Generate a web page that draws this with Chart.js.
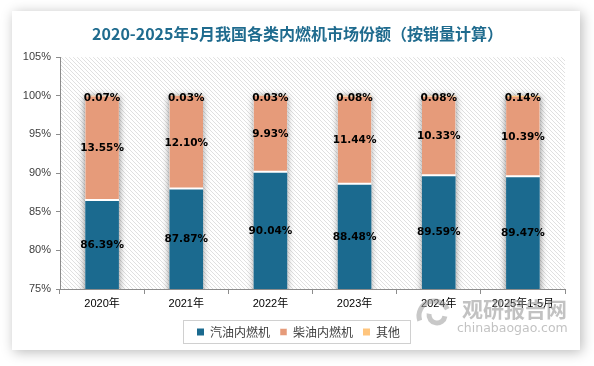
<!DOCTYPE html>
<html><head><meta charset="utf-8">
<script src="https://cdn.jsdelivr.net/npm/chart.js@4"></script>
<style>
html,body{margin:0;padding:0;background:#fff;}
#wrap{position:relative;width:594px;height:366px;}
canvas{display:block;}
</style></head>
<body>
<div id="wrap"><canvas id="c" width="594" height="366"></canvas></div>
<script>
const categories = ['2020年','2021年','2022年','2023年','2024年','2025年1-5月'];
const gasoline = [86.39, 87.87, 90.04, 88.48, 89.59, 89.47];
const diesel = [13.55, 12.10, 9.93, 11.44, 10.33, 10.39];
const other = [0.07, 0.03, 0.03, 0.08, 0.08, 0.14];
const seriesNames = ['汽油内燃机','柴油内燃机','其他'];
const yMin = 75, yMax = 105, yStep = 5;
const titleText = '2020-2025年5月我国各类内燃机市场份额（按销量计算）';

const COLORS = ['#1B6A8F','#E69B7A','#FFC57D'];
const LATIN = '"Liberation Sans", "Noto Sans CJK SC", sans-serif';

function makeHatch(ctx){
  const p = document.createElement('canvas');
  p.width = 4; p.height = 4;
  const c = p.getContext('2d');
  c.fillStyle = '#fff'; c.fillRect(0,0,4,4);
  c.fillStyle = '#e0e0e0';
  for (let i=0;i<4;i++){ c.fillRect(i,i,1,1); }
  return ctx.createPattern(p,'repeat');
}

const decor = {
  id:'decor',
  afterLayout(chart){
    const lg = chart.legend;
    if (lg){ lg.left += 16; lg.right += 16; }
    const tb = chart.titleBlock;
    if (tb){ tb.left += 15; tb.right += 15; }
  },
  beforeDraw(chart){
    const ctx = chart.ctx;
    ctx.save();
    ctx.fillStyle = '#fff';
    ctx.fillRect(0,0,chart.width,chart.height);
    ctx.shadowColor = 'rgba(0,0,0,0.28)';
    ctx.shadowBlur = 12;
    ctx.shadowOffsetX = 2; ctx.shadowOffsetY = 2;
    ctx.fillRect(12,11,568,339);
    ctx.restore();
    const a = chart.chartArea;
    ctx.save();
    ctx.fillStyle = makeHatch(ctx);
    ctx.fillRect(a.left, a.top, a.right-a.left, a.bottom-a.top);
    ctx.restore();
  },
  beforeDatasetsDraw(chart){
    const ctx = chart.ctx;
    const meta = chart.getDatasetMeta(0);
    const y = chart.scales.y;
    const a = chart.chartArea;
    ctx.save();
    ctx.beginPath(); ctx.rect(a.left-10,a.top,a.right-a.left+20,a.bottom-a.top); ctx.clip();
    ctx.shadowColor = 'rgba(0,0,0,0.5)';
    ctx.shadowBlur = 7;
    ctx.fillStyle = '#fff';
    meta.data.forEach((bar,i)=>{
      const total = gasoline[i]+diesel[i]+other[i];
      const top = y.getPixelForValue(total);
      ctx.fillRect(bar.x - bar.width/2, top, bar.width, a.bottom - top + 10);
    });
    ctx.restore();
  },
  afterDatasetsDraw(chart){
    const ctx = chart.ctx;
    const y = chart.scales.y;
    const meta = chart.getDatasetMeta(0);
    ctx.save();
    ctx.font = 'bold 10.5px "DejaVu Sans", sans-serif';
    ctx.fillStyle = '#000';
    ctx.textAlign = 'center';
    ctx.textBaseline = 'middle';
    meta.data.forEach((bar,i)=>{
      const g = gasoline[i], d = diesel[i], o = other[i];
      const gy = y.getPixelForValue((yMin + g)/2);
      ctx.fillText(g.toFixed(2)+'%', bar.x, gy);
      ctx.fillText(d.toFixed(2)+'%', bar.x, y.getPixelForValue(g + d/2));
      ctx.fillText(o.toFixed(2)+'%', bar.x, y.getPixelForValue(g + d + o/2) + 2);
    });
    ctx.restore();
  },
  afterDraw(chart){
    const ctx = chart.ctx;
    const hb = chart.legend.legendHitBoxes;
    if (hb && hb.length){
      const l = Math.min(...hb.map(b=>b.left)) - 14;
      const r = Math.max(...hb.map(b=>b.left+b.width)) + 10;
      const t = Math.min(...hb.map(b=>b.top)) - 6;
      const bt = Math.max(...hb.map(b=>b.top+b.height)) + 5;
      ctx.save();
      ctx.strokeStyle = '#d0d0d0';
      ctx.lineWidth = 1;
      ctx.strokeRect(Math.round(l)+0.5, Math.round(t)+0.5, Math.round(r-l), Math.round(bt-t));
      ctx.restore();
    }
    // watermark
    ctx.save();
    ctx.globalAlpha = 0.55;
    ctx.fillStyle = '#8f8f8f';
    ctx.textBaseline = 'middle';
    ctx.textAlign = 'left';
    ctx.font = 'bold 21px "Noto Sans CJK SC", sans-serif';
    ctx.fillText('观研报告网', 462, 309);
    ctx.font = '12.5px "DejaVu Sans", sans-serif';
    ctx.fillText('chinabaogao.com', 457, 329);
    ctx.lineWidth = 5;
    ctx.strokeStyle = '#9a9a9a';
    ctx.beginPath(); ctx.arc(434, 316, 15, Math.PI*0.9, Math.PI*1.85); ctx.stroke();
    ctx.beginPath(); ctx.arc(437, 315, 8, Math.PI*0.05, Math.PI*1.05); ctx.stroke();
    ctx.restore();
  }
};

const ctx = document.getElementById('c').getContext('2d');
new Chart(ctx, {
  type:'bar',
  data:{
    labels: categories,
    datasets:[
      {label:seriesNames[0], data:gasoline, backgroundColor:COLORS[0], borderWidth:0, barPercentage:0.8, categoryPercentage:0.5},
      {label:seriesNames[1], data:diesel, backgroundColor:COLORS[1], borderColor:'#fff', borderWidth:{top:0,left:0,right:0,bottom:2}, borderSkipped:false, barPercentage:0.8, categoryPercentage:0.5},
      {label:seriesNames[2], data:other, backgroundColor:COLORS[2], borderWidth:0, barPercentage:0.8, categoryPercentage:0.5}
    ]
  },
  options:{
    responsive:false,
    animation:false,
    devicePixelRatio:1,
    layout:{padding:{left:0,right:29,top:0,bottom:18}},
    plugins:{
      title:{display:true, text:titleText, color:'#1F6B8E',
        font:{family:'"Noto Sans CJK SC", sans-serif', size:16, weight:'bold'},
        padding:{top:24,bottom:14}},
      legend:{position:'bottom',
        labels:{boxWidth:7, boxHeight:7, color:'#404040', padding:10,
          font:{family:'"Noto Sans CJK SC", sans-serif', size:12}}},
      tooltip:{enabled:false}
    },
    scales:{
      x:{stacked:true,
        grid:{display:true, drawOnChartArea:false, drawTicks:true, tickLength:5, color:'#8c8c8c', offset:true},
        border:{display:true, color:'#8c8c8c'},
        ticks:{color:'#000', font:{family:LATIN, size:11}, padding:3, maxRotation:0, autoSkip:false},
        afterFit(s){ s.height = 27; }
      },
      y:{stacked:true, min:yMin, max:yMax,
        grid:{display:true, drawOnChartArea:false, drawTicks:true, tickLength:4, color:'#8c8c8c'},
        border:{display:true, color:'#8c8c8c'},
        ticks:{stepSize:yStep, color:'#404040', font:{family:LATIN, size:11}, padding:5,
          callback:v=>v+'%'},
        afterFit(s){ s.width = 60; }
      }
    }
  },
  plugins:[decor]
});
</script>
</body></html>
